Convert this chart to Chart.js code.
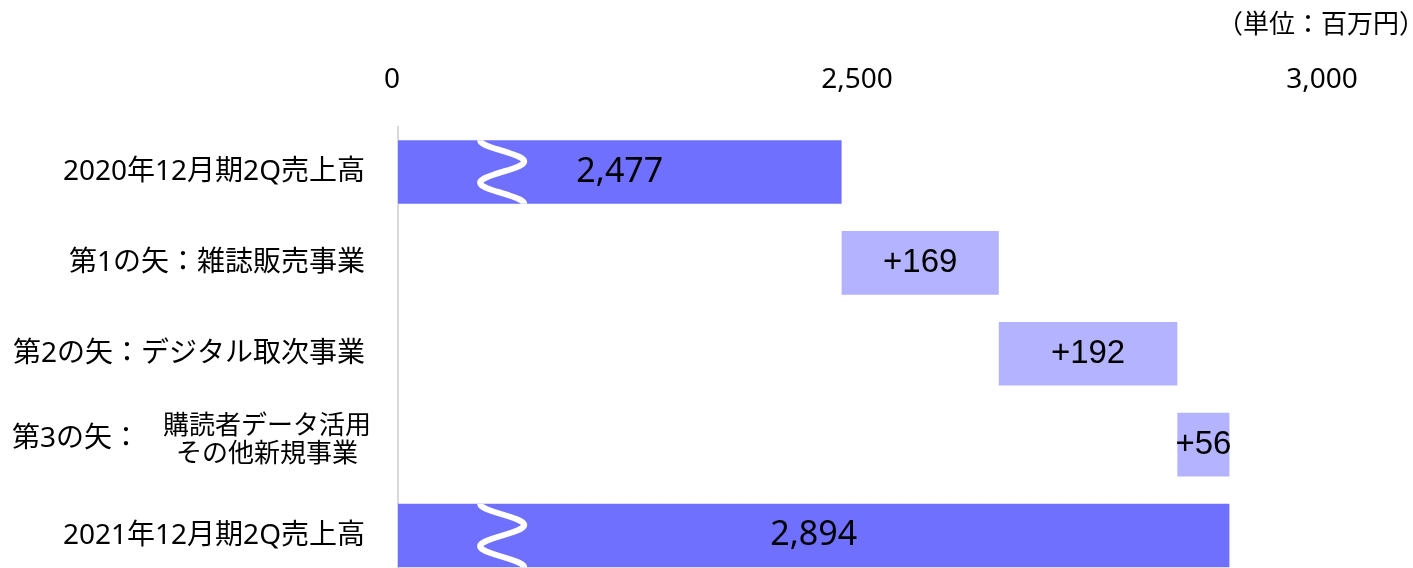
<!DOCTYPE html>
<html><head><meta charset="utf-8">
<script src="https://cdn.jsdelivr.net/npm/chart.js@4.4.1/dist/chart.umd.min.js"></script>
<style>html,body{margin:0;padding:0;background:#fff;overflow:hidden}#wrap{width:1413px;height:581px;position:relative}</style>
</head><body><div id="wrap"><canvas id="c"></canvas></div>
<script>
// ---- data ----
const categories = [
  '2020年12月期2Q売上高',
  '第1の矢：雑誌販売事業',
  '第2の矢：デジタル取次事業',
  ['第3の矢：', '購読者データ活用', 'その他新規事業'],
  '2021年12月期2Q売上高'
];
const values = [2477, 169, 192, 56, 2894];
const kinds = ['total', 'delta', 'delta', 'delta', 'total'];
const valueLabels = ['2,477', '+169', '+192', '+56', '2,894'];
const axisBreakBase = 2000;          // broken axis: shown as "0"
const axisMax = 3000;
const tickValues = [2000, 2500, 3000];
const tickLabels = ['0', '2,500', '3,000'];
const breakMarkAt = 2112;            // where the wavy break mark sits on total bars
const unitLabel = '（単位：百万円）';

// ---- build floating ranges ----
let running = 0;
const ranges = values.map((v, i) => {
  if (kinds[i] === 'total') { running = v; return [axisBreakBase, v]; }
  const s = running; running += v; return [s, running];
});
const colors = kinds.map(k => k === 'total' ? '#7070FF' : '#B3B3FF');

const FAM = '"Noto Sans", "Noto Sans CJK JP", sans-serif';

const decor = {
  id: 'decor',
  afterDatasetsDraw(chart) {
    const ctx = chart.ctx;
    const meta = chart.getDatasetMeta(0);
    const xs = chart.scales.x;
    ctx.save();
    meta.data.forEach((bar, i) => {
      const top = bar.y - bar.height / 2, h = bar.height;
      if (kinds[i] === 'total') {
        const cx = xs.getPixelForValue(breakMarkAt);
        const A = 22, P = h / 1.5;
        ctx.save();
        ctx.beginPath(); ctx.rect(bar.base, top, bar.x - bar.base, h); ctx.clip();
        ctx.beginPath();
        for (let t = -2; t <= h + 2; t += 0.5) {
          const xx = cx - A * Math.cos(2 * Math.PI * t / P);
          if (t === -2) ctx.moveTo(xx, top + t); else ctx.lineTo(xx, top + t);
        }
        ctx.strokeStyle = '#fff'; ctx.lineWidth = 6; ctx.lineJoin = 'round';
        ctx.stroke();
        ctx.restore();
      }
      const mx = (bar.x + bar.base) / 2;
      ctx.fillStyle = '#000';
      ctx.textAlign = 'center'; ctx.textBaseline = 'middle';
      ctx.font = kinds[i] === 'total' ? '34px ' + FAM : '33px "Liberation Sans", Arial, sans-serif';
      ctx.fillText(valueLabels[i], mx, bar.y);
    });
    ctx.restore();
  },
  afterDraw(chart) {
    const ctx = chart.ctx;
    const ys = chart.scales.y;
    ctx.save();
    ctx.fillStyle = '#000';
    ctx.textBaseline = 'middle';
    // unit label
    ctx.font = '26px ' + FAM;
    ctx.textAlign = 'right';
    ctx.fillText(unitLabel, chart.width + 12, 26);
    // multi-part category label
    categories.forEach((c, i) => {
      if (!Array.isArray(c)) return;
      const y = ys.getPixelForValue(i);
      ctx.font = '28px ' + FAM;
      ctx.textAlign = 'left';
      ctx.fillText(c[0], 12, y - 6);
      ctx.font = '26px ' + FAM;
      ctx.textAlign = 'center';
      ctx.fillText(c[1], 267, y - 18);
      ctx.fillText(c[2], 267, y + 10);
    });
    ctx.restore();
  }
};

const noPad = s => { s.paddingTop = 0; s.paddingBottom = 0; s.paddingLeft = 0; s.paddingRight = 0; };

new Chart(document.getElementById('c'), {
  type: 'bar',
  data: {
    labels: categories,
    datasets: [{ data: ranges, backgroundColor: colors, borderWidth: 0, borderSkipped: false,
      categoryPercentage: 0.7, barPercentage: 1 }]
  },
  options: {
    indexAxis: 'y',
    responsive: true,
    maintainAspectRatio: false,
    animation: false,
    layout: { padding: { top: 33, right: 85, left: 0, bottom: 0 } },
    plugins: { legend: { display: false }, tooltip: { enabled: false }, title: { display: false } },
    scales: {
      x: {
        position: 'top',
        min: axisBreakBase, max: axisMax,
        afterBuildTicks: s => { s.ticks = tickValues.map(v => ({ value: v })); },
        afterFit: noPad,
        grid: { display: false, drawTicks: false },
        border: { display: false },
        ticks: {
          callback: v => tickLabels[tickValues.indexOf(v)],
          font: { family: FAM, size: 28 }, color: '#000', padding: 30, labelOffset: -6,
          maxRotation: 0, autoSkip: false
        }
      },
      y: {
        afterFit: s => { s.width = 398; noPad(s); },
        grid: { display: false, drawTicks: false },
        border: { display: true, color: '#D9D9D9', width: 2 },
        ticks: {
          callback: function (v, i) { const c = categories[i]; return Array.isArray(c) ? '' : c; },
          font: { family: FAM, size: 28 }, color: '#000', padding: 33, autoSkip: false
        }
      }
    }
  },
  plugins: [decor]
});
</script></body></html>
